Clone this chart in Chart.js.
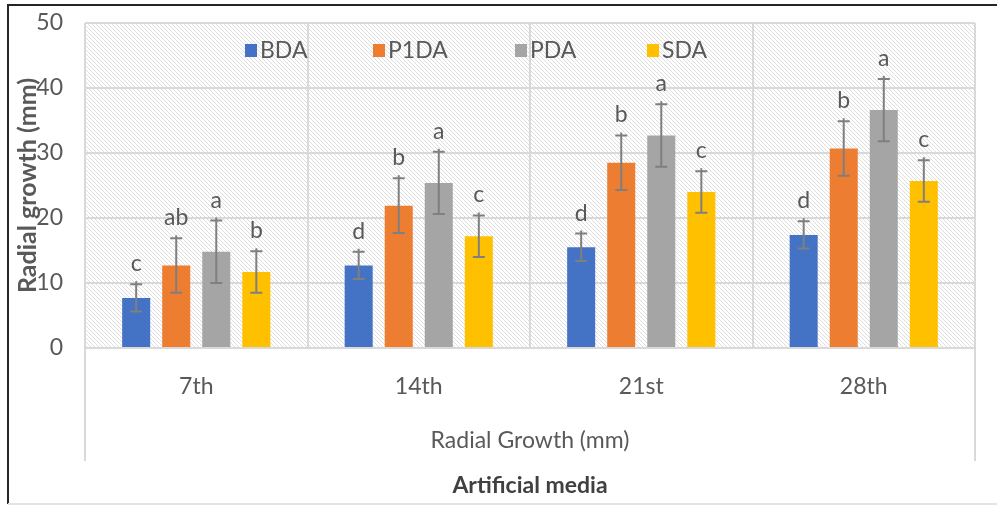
<!DOCTYPE html>
<html>
<head>
<meta charset="utf-8">
<script src="https://cdn.jsdelivr.net/npm/chart.js@4.4.1/dist/chart.umd.min.js"></script>
<style>
  html, body { margin: 0; padding: 0; background: #fff; }
  #wrap { width: 997px; height: 506px; position: relative; }
</style>
</head>
<body>
<div id="wrap"><canvas id="growthChart"></canvas></div>
<script>
// days of incubation
const categories = ['7th', '14th', '21st', '28th'];
const seriesNames = ['BDA', 'P1DA', 'PDA', 'SDA'];
const seriesColors = ['#4472C4', '#ED7D31', '#A5A5A5', '#FFC000'];

// mean radial growth (mm)
const bdaValues  = [7.7, 12.7, 15.5, 17.4];
const p1daValues = [12.7, 21.9, 28.5, 30.7];
const pdaValues  = [14.8, 25.4, 32.7, 36.6];
const sdaValues  = [11.7, 17.2, 24.0, 25.7];

// error bar half-widths
const bdaErr  = [2.1, 2.1, 2.1, 2.1];
const p1daErr = [4.2, 4.2, 4.2, 4.2];
const pdaErr  = [4.8, 4.8, 4.8, 4.8];
const sdaErr  = [3.2, 3.2, 3.2, 3.2];

// significance letters
const bdaLetters  = ['c', 'd', 'd', 'd'];
const p1daLetters = ['ab', 'b', 'b', 'b'];
const pdaLetters  = ['a', 'a', 'a', 'a'];
const sdaLetters  = ['b', 'c', 'c', 'c'];

const yTicks = [0, 10, 20, 30, 40, 50];

const allValues  = [bdaValues, p1daValues, pdaValues, sdaValues];
const allErrors  = [bdaErr, p1daErr, pdaErr, sdaErr];
const allLetters = [bdaLetters, p1daLetters, pdaLetters, sdaLetters];

const textColor = '#595959';
const gridColor = '#d9d9d9';
const fontName = 'Lato, "Liberation Sans", sans-serif';

// diagonal hatch for plot area
function makeHatch(ctx) {
    const c = document.createElement('canvas');
    c.width = 4; c.height = 4;
    const p = c.getContext('2d');
    p.fillStyle = '#ffffff';
    p.fillRect(0, 0, 4, 4);
    p.strokeStyle = '#dddddd';
    p.lineWidth = 1;
    p.beginPath();
    p.moveTo(-1, -1); p.lineTo(5, 5);
    p.moveTo(-1, 3); p.lineTo(1, 5);
    p.moveTo(3, -1); p.lineTo(5, 1);
    p.stroke();
    return ctx.createPattern(c, 'repeat');
}

const backdrop = {
    id: 'backdrop',
    beforeDraw(chart) {
        const { ctx, chartArea: a, width, height } = chart;
        ctx.save();
        ctx.fillStyle = '#fff';
        ctx.fillRect(0, 0, width, height);
        ctx.fillStyle = makeHatch(ctx);
        ctx.fillRect(a.left, a.top, a.right - a.left, a.bottom - a.top);

        // outer frame
        ctx.strokeStyle = '#262626';
        ctx.lineWidth = 2;
        ctx.beginPath();
        ctx.moveTo(8, height - 2);
        ctx.lineTo(8, 5);
        ctx.lineTo(width, 5);
        ctx.stroke();
        ctx.strokeStyle = '#e3e3e3';
        ctx.beginPath();
        ctx.moveTo(8, height - 2);
        ctx.lineTo(width, height - 2);
        ctx.stroke();

        // category axis box sides
        ctx.strokeStyle = gridColor;
        ctx.lineWidth = 2;
        ctx.beginPath();
        ctx.moveTo(a.left, a.bottom);
        ctx.lineTo(a.left, a.bottom + 113);
        ctx.moveTo(a.right, a.bottom);
        ctx.lineTo(a.right, a.bottom + 113);
        ctx.stroke();
        ctx.restore();
    },
    afterDraw(chart) {
        const { ctx, chartArea: a, height } = chart;
        ctx.save();
        // legend inside the plot
        const legendX = [245, 373, 515, 647];
        ctx.font = '23px ' + fontName;
        ctx.textBaseline = 'middle';
        ctx.textAlign = 'left';
        seriesNames.forEach((name, i) => {
            ctx.fillStyle = seriesColors[i];
            ctx.fillRect(legendX[i], a.top + 21, 12, 13);
            ctx.fillStyle = textColor;
            ctx.fillText(name, legendX[i] + 15, a.top + 28);
        });
        // chart caption under the category axis
        ctx.font = 'bold 23px ' + fontName;
        ctx.fillStyle = '#404040';
        ctx.textAlign = 'center';
        ctx.fillText('Artificial media', (a.left + a.right) / 2, height - 20);
        ctx.restore();
    }
};

const errorBars = {
    id: 'errorBars',
    afterDatasetsDraw(chart) {
        const { ctx } = chart;
        const yScale = chart.scales.y;
        ctx.save();
        chart.data.datasets.forEach((ds, i) => {
            const meta = chart.getDatasetMeta(i);
            meta.data.forEach((bar, j) => {
                const v = allValues[i][j];
                const e = allErrors[i][j];
                const yHi = yScale.getPixelForValue(v + e);
                const yLo = yScale.getPixelForValue(v - e);
                const x = bar.x;
                ctx.strokeStyle = '#7f7f7f';
                ctx.lineWidth = 2;
                ctx.beginPath();
                ctx.moveTo(x, yLo);
                ctx.lineTo(x, yHi - 3);
                ctx.moveTo(x - 6, yHi);
                ctx.lineTo(x + 6, yHi);
                ctx.moveTo(x - 6, yLo);
                ctx.lineTo(x + 6, yLo);
                ctx.stroke();

                ctx.fillStyle = textColor;
                ctx.font = '23px ' + fontName;
                ctx.textAlign = 'center';
                ctx.textBaseline = 'alphabetic';
                ctx.fillText(allLetters[i][j], x, yHi - 13);
            });
        });
        ctx.restore();
    }
};

const ctx = document.getElementById('growthChart').getContext('2d');
new Chart(ctx, {
    type: 'bar',
    data: {
        labels: categories,
        datasets: seriesNames.map((name, i) => ({
            label: name,
            data: allValues[i],
            backgroundColor: seriesColors[i],
            borderWidth: 0,
            categoryPercentage: 0.72,
            barPercentage: 0.7
        }))
    },
    options: {
        responsive: true,
        maintainAspectRatio: false,
        animation: false,
        layout: { autoPadding: false, padding: { top: 23, right: 22, bottom: 34, left: 8 } },
        plugins: {
            legend: { display: false },
            tooltip: { enabled: false }
        },
        scales: {
            x: {
                grid: { color: gridColor, lineWidth: 2, drawTicks: false },
                border: { display: false },
                ticks: {
                    color: textColor,
                    font: { family: fontName, size: 23 },
                    padding: 25,
                    maxRotation: 0
                },
                title: {
                    display: true,
                    text: 'Radial Growth (mm)',
                    color: textColor,
                    font: { family: fontName, size: 23 },
                    padding: { top: 0, bottom: 18 }
                },
                afterFit(scale) { scale.height = 124; }
            },
            y: {
                min: 0,
                max: 50,
                afterBuildTicks(scale) { scale.ticks = yTicks.map(v => ({ value: v })); },
                // invisible tick marks give the label gap (tick padding would also pad the top)
                grid: { color: gridColor, lineWidth: 2, drawTicks: true, tickLength: 22, tickColor: 'rgba(0,0,0,0)' },
                border: { display: false },
                ticks: {
                    color: textColor,
                    font: { family: fontName, size: 23 },
                    padding: 0
                },
                title: {
                    display: true,
                    text: 'Radial growth (mm)',
                    color: textColor,
                    font: { family: fontName, size: 25, weight: 'bold' },
                    padding: { top: 5, bottom: 0 }
                },
                afterFit(scale) { scale.width = 77; }
            }
        }
    },
    plugins: [backdrop, errorBars]
});
</script>
</body>
</html>
